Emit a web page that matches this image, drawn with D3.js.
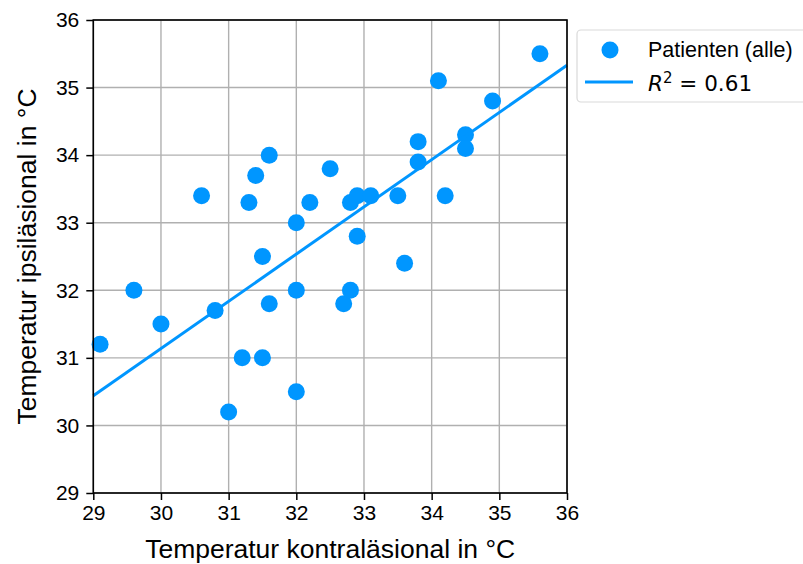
<!DOCTYPE html>
<html lang="de">
<head>
<meta charset="UTF-8">
<title>Temperatur</title>
<script src="https://cdn.jsdelivr.net/npm/d3@7"></script>
<style>
  body { margin: 0; background: #fff; }
  svg { display: block; font-family: "Liberation Sans", Arial, sans-serif; }
  .axis path, .axis line { stroke: #000; stroke-width: 1.5; }
  .axis text { font-size: 21px; fill: #000; }
  .grid line { stroke: #b0b0b0; stroke-width: 1.4; }
</style>
</head>
<body>
<div id="chart"></div>
<script>
// values
var kontra = [29.1, 29.6, 30.0, 30.6, 30.8, 31.0, 31.2, 31.3, 31.4, 31.5, 31.5, 31.6, 31.6,
              32.0, 32.0, 32.0, 32.2, 32.5, 32.7, 32.8, 32.8, 32.9, 32.9, 33.1, 33.5, 33.6,
              33.8, 33.8, 34.1, 34.2, 34.5, 34.5, 34.9, 35.6];
var ipsi   = [31.2, 32.0, 31.5, 33.4, 31.7, 30.2, 31.0, 33.3, 33.7, 32.5, 31.0, 34.0, 31.8,
              33.0, 32.0, 30.5, 33.3, 33.8, 31.8, 32.0, 33.3, 33.4, 32.8, 33.4, 33.4, 32.4,
              34.2, 33.9, 35.1, 33.4, 34.3, 34.1, 34.8, 35.5];
var fitX = [29, 36];
var fitY = [30.44, 35.33];
var xTicks = [29, 30, 31, 32, 33, 34, 35, 36];
var yTicks = [29, 30, 31, 32, 33, 34, 35, 36];

var w = 803, h = 564;
var mLeft = 93.3, mRight = 567, mTop = 20, mBottom = 493;
var blue = "#0096ff";

var svg = d3.select("#chart").append("svg")
    .attr("width", w).attr("height", h);

var x = d3.scaleLinear().domain([29, 36]).range([mLeft, mRight]);
var y = d3.scaleLinear().domain([29, 36]).range([mBottom, mTop]);

// grid
var grid = svg.append("g").attr("class", "grid");
grid.selectAll(".gx").data(xTicks).enter().append("line")
    .attr("x1", d => x(d)).attr("x2", d => x(d))
    .attr("y1", mTop).attr("y2", mBottom);
grid.selectAll(".gy").data(yTicks).enter().append("line")
    .attr("y1", d => y(d)).attr("y2", d => y(d))
    .attr("x1", mLeft).attr("x2", mRight);

// points
svg.append("g").selectAll("circle")
    .data(kontra.map((k, i) => [k, ipsi[i]]))
    .enter().append("circle")
    .attr("cx", d => x(d[0]))
    .attr("cy", d => y(d[1]))
    .attr("r", 8.5)
    .attr("fill", blue);

// fit line
var line = d3.line().x(d => x(d[0])).y(d => y(d[1]));
svg.append("path")
    .attr("d", line(fitX.map((v, i) => [v, fitY[i]])))
    .attr("fill", "none")
    .attr("stroke", blue)
    .attr("stroke-width", 3);

// frame
svg.append("rect")
    .attr("x", mLeft).attr("y", mTop)
    .attr("width", mRight - mLeft).attr("height", mBottom - mTop)
    .attr("fill", "none").attr("stroke", "#000").attr("stroke-width", 1.6);

// axes
svg.append("g").attr("class", "axis")
    .attr("transform", "translate(0," + mBottom + ")")
    .call(d3.axisBottom(x).tickValues(xTicks).tickSize(7).tickPadding(5).tickFormat(d3.format("d")))
    .call(g => g.select(".domain").remove());
svg.append("g").attr("class", "axis")
    .attr("transform", "translate(" + mLeft + ",0)")
    .call(d3.axisLeft(y).tickValues(yTicks).tickSize(7).tickPadding(7).tickFormat(d3.format("d")))
    .call(g => g.select(".domain").remove());

// axis labels
svg.append("text")
    .attr("x", (mLeft + mRight) / 2).attr("y", 558)
    .attr("text-anchor", "middle")
    .style("font-size", "26.5px")
    .text("Temperatur kontraläsional in °C");
svg.append("text")
    .attr("transform", "translate(36," + (mTop + mBottom) / 2 + ") rotate(-90)")
    .attr("text-anchor", "middle")
    .style("font-size", "26.5px")
    .text("Temperatur ipsiläsional in °C");

// legend
var lg = svg.append("g");
lg.append("rect")
    .attr("x", 577).attr("y", 30).attr("width", 240).attr("height", 72)
    .attr("rx", 4)
    .attr("fill", "#fff").attr("stroke", "#d9d9d9").attr("stroke-width", 1.2);
lg.append("circle").attr("cx", 610).attr("cy", 50).attr("r", 8.5).attr("fill", blue);
lg.append("line").attr("x1", 585).attr("x2", 633).attr("y1", 82).attr("y2", 82)
    .attr("stroke", blue).attr("stroke-width", 3);
lg.append("text").attr("x", 648).attr("y", 57).style("font-size", "21.5px").text("Patienten (alle)");
var r2 = lg.append("text").attr("x", 648).attr("y", 91)
    .style("font-family", "'DejaVu Sans', sans-serif").style("font-size", "21.5px");
r2.append("tspan").style("font-style", "italic").text("R");
r2.append("tspan").attr("dy", -8).style("font-size", "15px").text("2");
r2.append("tspan").attr("dy", 8).text(" = 0.61");
</script>
</body>
</html>
